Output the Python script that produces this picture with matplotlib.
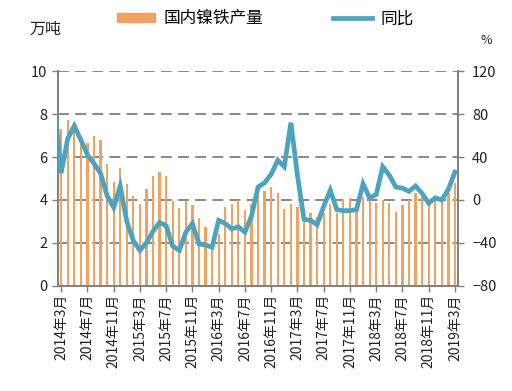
import matplotlib
matplotlib.use("Agg")
import matplotlib.pyplot as plt
import numpy as np
from matplotlib.lines import Line2D
from matplotlib.patches import Patch

plt.rcParams['font.family'] = ['Noto Sans CJK SC', 'DejaVu Sans']

# monthly categories 2014-03 .. 2019-03
months = [f"{2014 + (m - 1) // 12}年{(m - 1) % 12 + 1}月" for m in range(3, 3 + 61)]

production = [7.31, 7.73, 7.3, 6.7, 6.64, 6.99, 6.8, 5.66, 4.85, 5.48,
              4.73, 4.17, 3.81, 4.5, 5.12, 5.31, 5.12, 3.95, 3.61, 3.95,
              3.76, 3.14, 2.75, 2.1, 2.4, 3.65, 3.8, 4.0, 3.53, 3.8,
              4.23, 4.42, 4.59, 4.31, 3.56, 3.81, 3.67, 3.3, 3.4, 3.2,
              3.37, 3.81, 3.37, 4.0, 4.1, 3.48, 4.12, 4.0, 3.85, 4.0,
              3.86, 3.44, 3.78, 4.02, 4.33, 4.17, 4.0, 4.02, 4.1, 4.34,
              4.8]

# YoY %, starting one month earlier (2014-02), line enters from the axis edge
yoy = [89,
       25, 57, 69, 56, 42, 34, 25, 4, -7, 13,
       -20, -38, -47, -40, -29, -21, -24, -43, -47, -30,
       -22, -41, -42, -44, -19, -22, -27, -25, -30, -15,
       12, 16, 24, 37, 31, 72, 23, -18, -19, -23,
       -6, 9, -9, -10, -10, -9, 15, 2, 5, 31,
       23, 12, 11, 8, 13, 6, -3, 2, 0, 10,
       26]

bar_color = '#F0A35E'
line_color = '#4BA3BF'
grey = '#7F7F7F'

fig = plt.figure(figsize=(5.12, 3.91), dpi=100)
ax = fig.add_axes([0.113, 0.269, 0.782, 0.549])
ax2 = ax.twinx()

x = np.arange(len(production))
ax.bar(x, production, width=0.34, color=bar_color, zorder=2)
ax.set_ylim(0, 10)
ax.set_yticks([0, 2, 4, 6, 8, 10])
ax.set_xlim(-0.5, len(production) - 0.5)
for v in [2, 4, 6, 8, 10]:
    ax.axhline(v, color=grey, lw=1.3, ls=(0, (6, 3.5)), zorder=1)

xl = np.arange(-1, len(production))
ax2.plot(xl, yoy, color=line_color, lw=3.4, solid_joinstyle='miter', zorder=3)
ax2.set_ylim(-80, 120)
ax2.set_yticks([-80, -40, 0, 40, 80, 120])
ax2.set_xlim(-0.5, len(production) - 0.5)

ax.set_xticks(x[::4])
ax.set_xticklabels(months[::4], rotation=90, fontsize=10, color='#222222')
for a in (ax, ax2):
    a.tick_params(axis='y', labelsize=10.5, colors='#222222', length=4, width=1, color=grey)
    a.spines['top'].set_visible(False)
    for s in ['left', 'right', 'bottom']:
        a.spines[s].set_color(grey)
        a.spines[s].set_linewidth(1.2)
ax.tick_params(axis='x', length=4, width=1, color=grey, pad=2)
ax2.tick_params(axis='y', pad=6)

fig.text(0.058, 0.925, '万吨', fontsize=11.5, ha='left', va='center', color='#222222')
fig.text(0.938, 0.897, '%', fontsize=9, ha='left', va='center', color='#222222')

handles = [Patch(color=bar_color, label='国内镍铁产量'),
           Line2D([0], [0], color=line_color, lw=3.4, label='同比')]
fig.legend(handles=handles, loc='center', bbox_to_anchor=(0.518, 0.952), ncol=2,
           frameon=False, fontsize=12, handlelength=2.3, handleheight=0.45,
           columnspacing=4.2, handletextpad=0.5, borderpad=0)

fig.savefig('out.png', dpi=100)
